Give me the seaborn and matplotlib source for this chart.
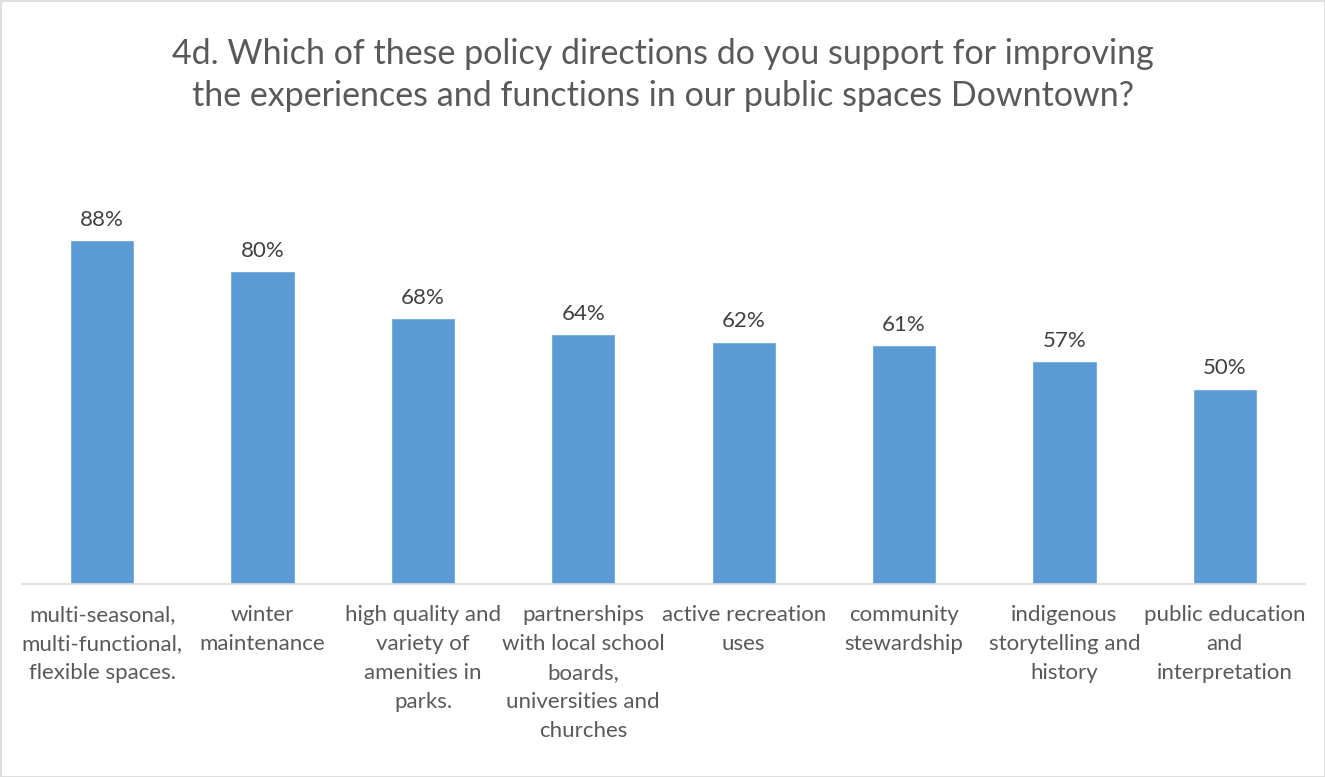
import matplotlib
matplotlib.use("Agg")
import matplotlib.pyplot as plt
import seaborn as sns
import pandas as pd
from matplotlib.patches import Rectangle

categories = [
    "multi-seasonal,\nmulti-functional,\nflexible spaces.",
    "winter\nmaintenance",
    "high quality and\nvariety of\namenities in\nparks.",
    "partnerships\nwith local school\nboards,\nuniversities and\nchurches",
    "active recreation\nuses",
    "community\nstewardship",
    "indigenous\nstorytelling and\nhistory",
    "public education\nand\ninterpretation",
]
values = [88, 80, 68, 64, 62, 61, 57, 50]
title = "4d. Which of these policy directions do you support for improving\nthe experiences and functions in our public spaces Downtown?"

df = pd.DataFrame({"category": categories, "value": values})

sns.set_theme(style="white")
plt.rcParams['font.family'] = ['Lato', 'DejaVu Sans']

fig = plt.figure(figsize=(13.25, 7.77), dpi=100)
ax = fig.add_axes([22/1325, 1 - 584/777, 1283/1325, 391/777])

sns.barplot(data=df, x="category", y="value", color="#5B9BD5", width=0.4,
            saturation=1, ax=ax)
ax.set_ylim(0, 100)
ax.set_xlim(-0.5, len(categories) - 0.5)
ax.set_xlabel("")
ax.set_ylabel("")
ax.set_yticks([])
for s in ["top", "left", "right"]:
    ax.spines[s].set_visible(False)
ax.spines["bottom"].set_color("#D9D9D9")
ax.spines["bottom"].set_linewidth(1.2)
ax.tick_params(axis="x", length=0, pad=15, labelsize=16, colors="#595959")
for lbl in ax.get_xticklabels():
    lbl.set_linespacing(1.57)
    lbl.set_va("top")

for i, v in enumerate(values):
    ax.text(i, v + 2.6, f"{v}%", ha="center", va="bottom", fontsize=16, color="#404040")

fig.text(0.5, 1 - 75/777, title, ha="center", va="center", fontsize=24.5,
         color="#595959", linespacing=1.4)

fig.patches.append(Rectangle((0.5/1325, 0.5/777), 1 - 1/1325, 1 - 1/777,
                             transform=fig.transFigure, fill=False,
                             edgecolor="#D9D9D9", linewidth=1.2))

fig.savefig("out.png", dpi=100)
